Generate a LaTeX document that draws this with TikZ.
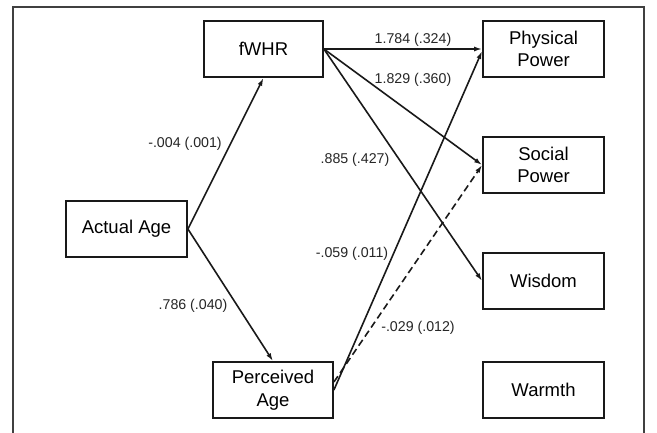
\documentclass[tikz,border=0pt]{standalone}
\usepackage{fontspec}
\setmainfont{Liberation Sans}
\usetikzlibrary{arrows.meta}
\begin{document}
\begin{tikzpicture}[x=1pt,y=-1pt,
  box/.style={draw=black!90,line width=1.8pt,minimum height=56pt,align=center,inner sep=0pt,font=\fontsize{18.5}{22.5}\selectfont},
  path/.style={draw=black!90,line width=1.6pt,-{Latex[length=8pt,width=5pt]}},
  lab/.style={font=\fontsize{14.2}{16}\selectfont,inner sep=0pt,text=black!85}]
\useasboundingbox (0,0) rectangle (657,432);
\fill[white] (0,0) rectangle (657,432);
\draw[black!75,line width=1.4pt] (13,440) -- (13,7) -- (644,7) -- (644,440);
\node[box,minimum width=119pt] (fwhr) at (263.5,49) {fWHR};
\node[box,minimum width=121pt] (phys) at (543.5,49) {Physical\\Power};
\node[box,minimum width=121pt] (soc) at (543.5,165) {Social\\Power};
\node[box,minimum width=121pt] (wis) at (543.5,281) {Wisdom};
\node[box,minimum width=121pt] (warm) at (543.5,390) {Warmth};
\node[box,minimum width=121pt] (act) at (126.5,229) {Actual Age};
\node[box,minimum width=120pt] (perc) at (273,390) {Perceived\\Age};
\draw[path] (act.east) -- (fwhr.south);
\draw[path] (act.east) -- (perc.north);
\draw[path] (fwhr.east) -- (phys.west);
\draw[path] (fwhr.east) -- (soc.west);
\draw[path] (fwhr.east) -- (wis.west);
\draw[path] (perc.east) -- ([yshift=-2pt]phys.west);
\draw[path,dashed,dash pattern=on 7pt off 4pt] ([yshift=8pt]perc.east) -- (soc.west);
\node[lab] (l1) at (413,40) {1.784 (.324)};
\node[lab] (l2) at (413,80) {1.829 (.360)};
\node[lab] (l3) at (185,144) {-.004 (.001)};
\node[lab] (l4) at (355,160) {.885 (.427)};
\node[lab] (l5) at (352,254) {-.059 (.011)};
\node[lab] (l6) at (193,306) {.786 (.040)};
\node[lab] (l7) at (418,328) {-.029 (.012)};
\end{tikzpicture}
\end{document}
